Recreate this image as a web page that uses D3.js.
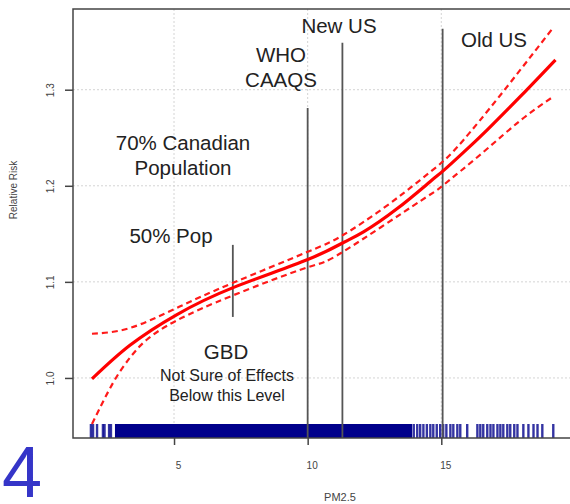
<!DOCTYPE html>
<html>
<head>
<meta charset="utf-8">
<script src="https://cdn.jsdelivr.net/npm/d3@7"></script>
<style>
  html, body { margin: 0; padding: 0; background: #fff; }
  svg { display: block; font-family: "Liberation Sans", Arial, sans-serif; }
</style>
</head>
<body>
<svg id="chart" width="570" height="504"></svg>
<script>
// ---- data ----
const xTicks = [5, 10, 15];
const yTicks = [1.0, 1.1, 1.2, 1.3];
const yTickLabels = ["1.0", "1.1", "1.2", "1.3"];

const pm = [1.93, 3.35, 5.11, 7.21, 9.98, 11.34, 12.09, 13.34, 14.59, 15.09, 15.84, 16.71, 17.96, 19.27];
const rr = [0.999, 1.034, 1.066, 1.094, 1.123, 1.141, 1.152, 1.176, 1.2045, 1.216, 1.235, 1.258, 1.293, 1.331];

const upperX = [1.93, 3.35, 5.11, 7.21, 9.98, 11.34, 12.84, 14.21, 15.09, 15.84, 17.2, 19.2];
const upperY = [1.046, 1.052, 1.073, 1.099, 1.131, 1.149, 1.1768, 1.206, 1.226, 1.248, 1.294, 1.365];

const lowerX = [1.93, 2.72, 3.35, 3.99, 5.11, 7.21, 9.98, 11.34, 14.21, 15.09, 16.57, 17.96, 19.2];
const lowerY = [0.952, 0.995, 1.021, 1.040, 1.060, 1.086, 1.115, 1.1316, 1.184, 1.201, 1.235, 1.268, 1.293];

// reference lines: position and top value
const refX = [10, 11.3, 15.05];
const refTop = [1.281, 1.349, 1.3635];
const popLineX = 7.2;
const popLineRange = [1.0635, 1.1385];

// rug: dense band plus individual observations
const rugDense = [2.79, 13.91];
const rugValues = [1.89, 1.97, 2.12, 2.34, 2.40, 2.57, 2.64,
  13.97, 14.10, 14.21, 14.33, 14.46, 14.59, 14.70, 14.83, 14.96, 15.07, 15.19, 15.34, 15.45, 15.60, 15.71,
  15.97, 16.35, 16.46, 16.57, 16.72, 16.84, 16.95, 17.10, 17.21, 17.32, 17.47, 17.58, 17.73, 17.85,
  18.07, 18.26, 18.45, 18.60, 18.78, 19.19];

// ---- chart ----
const svg = d3.select("#chart");
const x = d3.scaleLinear().domain([1.22, 21.2]).range([73, 607]);
const y = d3.scaleLinear().domain([0.9375, 1.384]).range([438, 9]);
const pLeft = 73, pRight = 607, pTop = 9, pBottom = 438;

// grid
const grid = svg.append("g").attr("stroke", "#d4d4d4").attr("stroke-width", 1).attr("stroke-dasharray", "2,2");
grid.selectAll("line.h").data(yTicks).join("line").attr("class", "h")
  .attr("x1", pLeft).attr("x2", pRight).attr("y1", d => y(d)).attr("y2", d => y(d));
grid.selectAll("line.v").data(xTicks).join("line").attr("class", "v")
  .attr("x1", d => x(d)).attr("x2", d => x(d)).attr("y1", pTop).attr("y2", pBottom);

// rug
const rug = svg.append("g");
rug.append("rect")
  .attr("x", x(rugDense[0])).attr("width", x(rugDense[1]) - x(rugDense[0]))
  .attr("y", pBottom - 14).attr("height", 14).attr("fill", "#00008b");
rug.selectAll("line").data(rugValues).join("line")
  .attr("x1", d => x(d)).attr("x2", d => x(d))
  .attr("y1", pBottom - 14).attr("y2", pBottom)
  .attr("stroke", "#00008b").attr("stroke-width", 2.4).attr("stroke-opacity", 0.8);

// reference lines
svg.append("g").selectAll("line").data(refX).join("line")
  .attr("x1", d => x(d)).attr("x2", d => x(d))
  .attr("y1", (d, i) => y(refTop[i])).attr("y2", pBottom)
  .attr("stroke", "#555").attr("stroke-width", 1.8);
svg.append("line")
  .attr("x1", x(popLineX)).attr("x2", x(popLineX))
  .attr("y1", y(popLineRange[1])).attr("y2", y(popLineRange[0]))
  .attr("stroke", "#555").attr("stroke-width", 1.8);

// curves
const line = d3.line().curve(d3.curveNatural);
svg.append("path")
  .attr("d", line(upperX.map((v, i) => [x(v), y(upperY[i])])))
  .attr("fill", "none").attr("stroke", "#ff1a1a").attr("stroke-width", 2.2).attr("stroke-dasharray", "6,4");
svg.append("path")
  .attr("d", line(lowerX.map((v, i) => [x(v), y(lowerY[i])])))
  .attr("fill", "none").attr("stroke", "#ff1a1a").attr("stroke-width", 2.2).attr("stroke-dasharray", "6,4");
svg.append("path")
  .attr("d", line(pm.map((v, i) => [x(v), y(rr[i])])))
  .attr("fill", "none").attr("stroke", "#ff0000").attr("stroke-width", 3.2);

// box (left, top, bottom)
svg.append("path")
  .attr("d", `M${pRight},${pTop}H${pLeft}V${pBottom}H${pRight}`)
  .attr("fill", "none").attr("stroke", "#444").attr("stroke-width", 1.5);

// axes
const xAxis = d3.axisBottom(x).tickValues(xTicks).tickSize(7).tickPadding(17).tickSizeOuter(0);
const gx = svg.append("g").attr("transform", `translate(0,${pBottom})`).call(xAxis);
gx.select(".domain").remove();
gx.selectAll(".tick line").attr("stroke", "#444").attr("stroke-width", 1.5);
gx.selectAll(".tick text").attr("fill", "#444").attr("font-size", 10).attr("dx", 4)
  .attr("font-family", "Liberation Sans, Arial, sans-serif");

const yAxis = d3.axisLeft(y).tickValues(yTicks).tickFormat((d, i) => yTickLabels[i]).tickSize(8).tickSizeOuter(0);
const gy = svg.append("g").attr("transform", `translate(${pLeft},0)`).call(yAxis);
gy.select(".domain").remove();
gy.selectAll(".tick line").attr("stroke", "#444").attr("stroke-width", 1.5);
gy.selectAll(".tick text").attr("fill", "#444").attr("font-size", 10)
  .attr("font-family", "Liberation Sans, Arial, sans-serif")
  .attr("text-anchor", "middle").attr("dy", 0)
  .attr("transform", "rotate(-90)")
  .attr("x", 0).attr("y", -19);

// axis titles
svg.append("text").attr("x", 340).attr("y", 501).attr("text-anchor", "middle")
  .attr("font-size", 11).attr("fill", "#444").text("PM2.5");
svg.append("text").attr("transform", "translate(17,190) rotate(-90)").attr("text-anchor", "middle")
  .attr("font-size", 10).attr("fill", "#444").text("Relative Risk");

// annotations
const ann = [
  {t: "New US", x: 339, y: 33, s: 20.5},
  {t: "WHO", x: 281, y: 62, s: 20.5},
  {t: "CAAQS", x: 281, y: 87, s: 20.5},
  {t: "Old US", x: 494, y: 47, s: 20.5},
  {t: "70% Canadian", x: 183, y: 150, s: 20.5},
  {t: "Population", x: 183, y: 175, s: 20.5},
  {t: "50% Pop", x: 171, y: 243, s: 20.5},
  {t: "GBD", x: 226, y: 359, s: 20.5},
  {t: "Not Sure of Effects", x: 227, y: 381, s: 16},
  {t: "Below this Level", x: 227, y: 401, s: 16}
];
svg.append("g").selectAll("text").data(ann).join("text")
  .attr("x", d => d.x).attr("y", d => d.y).attr("text-anchor", "middle")
  .attr("font-size", d => d.s).attr("fill", "#222").text(d => d.t);

// slide number
svg.append("text").attr("x", 2).attr("y", 497).attr("font-size", 72)
  .attr("fill", "#3535c8").text("4");
</script>
</body>
</html>
